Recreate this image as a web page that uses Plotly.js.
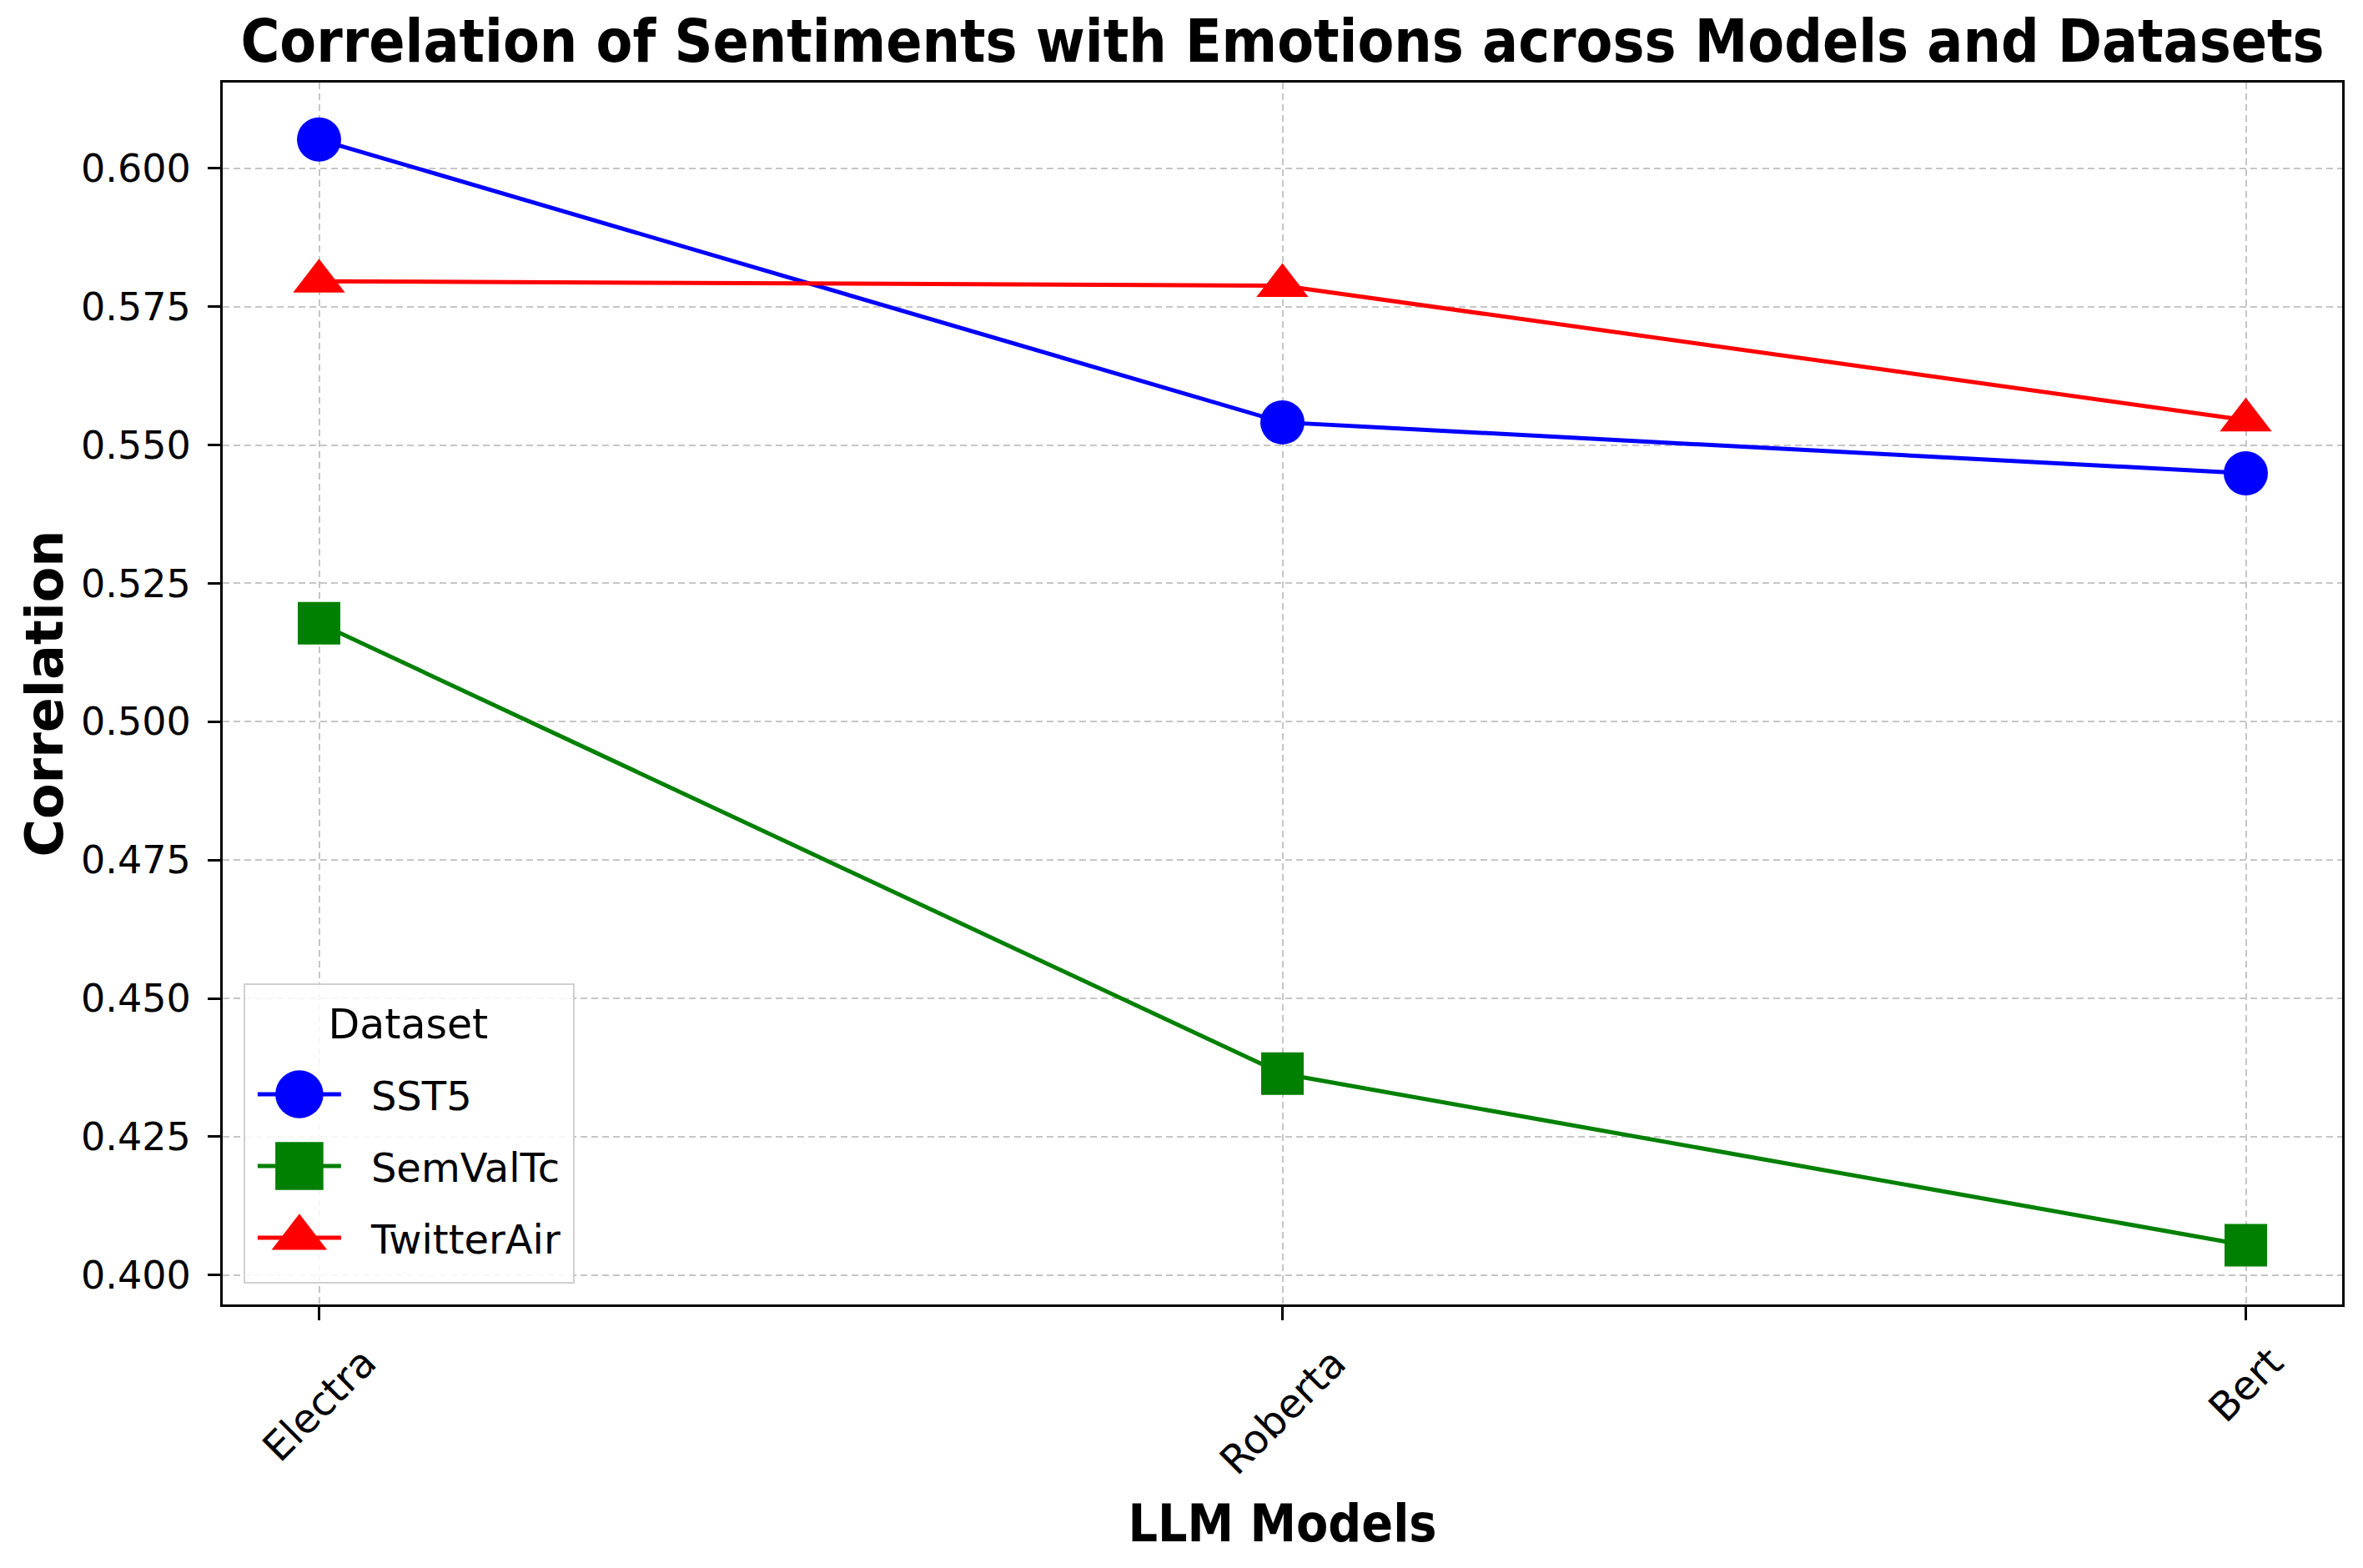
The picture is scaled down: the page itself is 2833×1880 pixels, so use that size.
<!DOCTYPE html>
<html>
<head>
<meta charset="utf-8">
<script src="https://cdn.plot.ly/plotly-3.0.1.min.js"></script>
<style>html,body{margin:0;padding:0;background:#fff;}#chart{width:2833px;height:1880px;}</style>
</head>
<body>
<div id="chart"></div>
<script>
const models = ["Electra", "Roberta", "Bert"];
const datasets = ["SST5", "SemValTc", "TwitterAir"];
const sst5 = [0.6052, 0.5541, 0.5449];
const semValTc = [0.5178, 0.4364, 0.4054];
const twitterAir = [0.5796, 0.5788, 0.5545];
const yTicks = [0.400, 0.425, 0.450, 0.475, 0.500, 0.525, 0.550, 0.575, 0.600];

const seriesValues = [sst5, semValTc, twitterAir];
const colors = ["#0000ff", "#008000", "#ff0000"];
const symbols = ["circle", "square", "triangle-up"];
const sizes = [53, 51, 54];

const COND = "DejaVu Sans Condensed, DejaVu Sans, sans-serif";
const REG = "DejaVu Sans, sans-serif";

const xIdx = models.map((m, i) => i);

const traces = datasets.map((name, k) => ({
  type: "scatter",
  mode: "lines+markers",
  name: name,
  x: xIdx,
  y: seriesValues[k],
  line: {color: colors[k], width: 5},
  marker: {color: colors[k], symbol: symbols[k], size: sizes[k], line: {width: 0}},
  hoverinfo: "x+y+name"
}));

const tickAnnotations = models.map((m, i) => ({
  xref: "x", yref: "paper", x: i, y: -0.026,
  xanchor: "center", yanchor: "top",
  text: m, textangle: -45, showarrow: false,
  font: {family: REG, size: 48, color: "#000"}
}));

const gridColor = "#c6c6c6";

const layout = {
  width: 2833, height: 1880,
  paper_bgcolor: "#ffffff", plot_bgcolor: "#ffffff",
  margin: {l: 267, r: 25, t: 99, b: 316, pad: 0},
  title: {
    text: "<b>Correlation of Sentiments with Emotions across Models and Datasets</b>",
    font: {family: COND, size: 71, color: "#000"},
    x: 0.5, xref: "paper", y: 0.974, yref: "container", yanchor: "middle"
  },
  xaxis: {
    type: "linear", range: [-0.1, 2.1],
    tickvals: xIdx, ticktext: models, showticklabels: false,
    ticks: "outside", ticklen: 16, tickwidth: 3, tickcolor: "#000",
    showline: true, linecolor: "#000", linewidth: 3, mirror: true,
    showgrid: true, gridcolor: gridColor, gridwidth: 2, griddash: "8px,5px",
    zeroline: false,
    title: {text: "<b>LLM Models</b>", font: {family: COND, size: 62, color: "#000"}, standoff: 223}
  },
  yaxis: {
    range: [0.3947, 0.6155],
    tickvals: yTicks, tickformat: ".3f",
    ticks: "outside", ticklen: 15, tickwidth: 3, tickcolor: "#000",
    tickfont: {family: REG, size: 46, color: "#000"},
    ticklabelstandoff: 11,
    showline: true, linecolor: "#000", linewidth: 3, mirror: true,
    showgrid: true, gridcolor: gridColor, gridwidth: 2, griddash: "8px,5px",
    zeroline: false,
    title: {text: "<b>Correlation</b>", font: {family: REG, size: 62, color: "#000"}, standoff: 2}
  },
  legend: {
    x: 0.0098, y: 0.2628, xanchor: "left", yanchor: "top",
    bgcolor: "rgba(255,255,255,0.85)", bordercolor: "#d0d0d0", borderwidth: 2,
    font: {family: REG, size: 48, color: "#000"},
    title: {text: "Dataset", side: "top center", font: {family: REG, size: 49, color: "#000"}},
    itemwidth: 100
  },
  annotations: tickAnnotations,
  showlegend: true
};

function restyleLegend(gd) {
  const leg = gd.querySelector("g.legend");
  if (!leg) return;
  const W = 395, H = 358, firstRowY = 133, rowGap = 86, lineStart = 15, lineLen = 100, textX = 151;
  const bg = leg.querySelector("rect.bg");
  if (bg) { bg.setAttribute("width", W); bg.setAttribute("height", H); }
  gd.querySelectorAll("clipPath").forEach(function (cp) {
    if (cp.id && cp.id.indexOf("legend") === 0) {
      const r = cp.querySelector("rect");
      if (r) { r.setAttribute("width", W); r.setAttribute("height", H); }
    }
  });
  const legM = leg.getCTM();
  const rows = leg.querySelectorAll("g.traces");
  rows.forEach(function (tr, i) {
    const m = /translate\(\s*([-\d.e]+)[ ,]+([-\d.e]+)\s*\)/.exec(tr.getAttribute("transform") || "");
    const tx = m ? parseFloat(m[1]) : 0;
    const pm = tr.parentNode.getCTM();
    const parentOffset = (pm && legM) ? (pm.f - legM.f) : 0;
    tr.setAttribute("transform", "translate(" + tx + "," + (firstRowY + i * rowGap - parentOffset) + ")");
    tr.querySelectorAll(".legendlines path").forEach(function (p) {
      p.setAttribute("d", "M" + lineStart + ",0h" + lineLen);
    });
    tr.querySelectorAll(".legendpoints path.scatterpts").forEach(function (p) {
      p.setAttribute("transform", "translate(" + (lineStart + lineLen / 2) + ",0) scale(3.6)");
    });
    const txt = tr.querySelector("text.legendtext");
    if (txt) {
      txt.setAttribute("x", textX);
      txt.querySelectorAll("tspan").forEach(function (ts) { if (ts.hasAttribute("x")) ts.setAttribute("x", textX); });
    }
    const tog = tr.querySelector("rect.legendtoggle");
    if (tog) tog.setAttribute("width", W - 4);
  });
  const title = leg.querySelector("text.legendtitletext");
  if (title) {
    const bb = title.getBBox();
    const nx = W / 2 - bb.width / 2;
    title.setAttribute("x", nx);
    title.setAttribute("text-anchor", "start");
    title.querySelectorAll("tspan").forEach(function (ts) { if (ts.hasAttribute("x")) ts.setAttribute("x", nx); });
  }
}

Plotly.newPlot("chart", traces, layout, {displayModeBar: false, responsive: false}).then(function (gd) {
  restyleLegend(gd);
});
</script>
</body>
</html>
